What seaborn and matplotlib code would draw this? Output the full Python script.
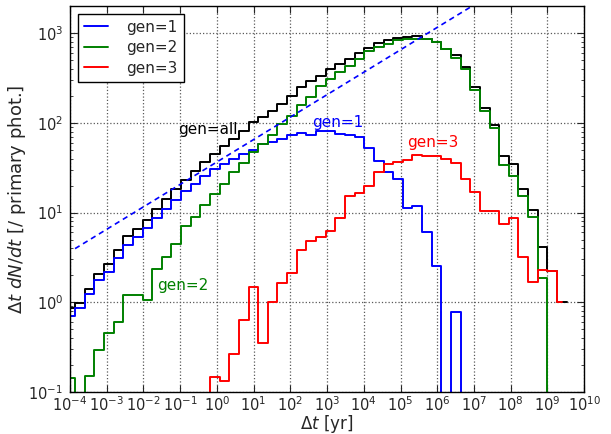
import numpy as np
import pandas as pd
import seaborn as sns
import matplotlib
matplotlib.use("Agg")
from matplotlib import pyplot as plt
from matplotlib.ticker import LogLocator, NullLocator

# log-spaced bins in dt [yr], 0.2625 dex wide
nbins = 52
edges = np.logspace(-4.125, -4.125 + 0.2625 * nbins, nbins + 1)

# dt dN/dt per bin [/ primary phot.]
gen_all = [0.87, 0.97, 1.41, 2.08, 2.64, 3.79, 5.47, 6.6, 8.2, 10.9,
           14.1, 18.3, 23.0, 29.2, 36.2, 44.9, 55.6, 66.0, 81.8, 101.6,
           115.6, 137.0, 162.6, 201.0, 250.0, 296.0, 335.0, 398.0, 452.0, 519.0,
           605.0, 689.0, 777.0, 831.0, 884.0, 914.0, 930.0, 867.0, 797.0, 671.0,
           565.0, 419.0, 250.0, 146.0, 94.8, 42.3, 34.7, 18.5, 10.6, 4.12,
           2.22, 1.0]
gen1 = [0.70, 0.865, 1.24, 1.79, 2.19, 3.14, 4.3, 5.4, 6.8, 8.8,
        10.9, 13.8, 17.4, 20.7, 25.7, 30.5, 34.7, 39.5, 44.9, 50.0,
        58.0, 60.7, 66.0, 73.0, 77.0, 74.0, 81.0, 80.5, 75.0, 73.0,
        69.0, 52.0, 37.5, 28.0, 23.6, 11.1, 11.9, 6.07, 2.53, 0.0,
        0.77, 0.0, 0.0, 0.0, 0.0, 0.0, 0.0, 0.0, 0.0, 0.0,
        0.0, 0.0]
gen2 = [0.143, 0.0, 0.149, 0.29, 0.45, 0.61, 1.22, 1.19, 1.07, 2.36,
        3.19, 4.42, 7.08, 9.0, 12.2, 16.0, 21.0, 28.0, 36.0, 47.0,
        58.0, 73.0, 97.0, 120.0, 156.0, 193.0, 257.0, 310.0, 368.0, 430.0,
        519.0, 626.0, 702.0, 764.0, 831.0, 867.0, 867.0, 860.0, 790.0, 660.0,
        528.0, 394.0, 235.0, 135.0, 87.0, 33.8, 25.7, 15.4, 9.0, 1.87,
        0.0, 0.0]
gen3 = [0.0, 0.0, 0.0, 0.0, 0.0, 0.0, 0.0, 0.0, 0.0, 0.0,
        0.0, 0.0, 0.0, 0.0, 0.0, 0.146, 0.133, 0.267, 0.63, 1.49,
        0.35, 1.0, 1.65, 2.1, 3.8, 4.8, 5.4, 6.3, 8.6, 15.1,
        16.3, 19.9, 28.0, 35.0, 37.0, 39.0, 43.7, 42.3, 42.3, 39.3,
        35.3, 23.6, 17.1, 10.4, 10.3, 7.4, 8.8, 3.2, 1.67, 2.28,
        2.22, 1.0]

# dashed t^(1/4) reference line
ref_norm = 36.6
ref_slope = 0.25
ref_t = [1.37e-4, 3e7]


def draw_steps(ax, vals, color, label=None, stop_mid=False):
    n = len(vals)
    x = list(edges[:n + 1])
    if stop_mid:
        # last bin only drawn up to its centre
        x[-1] = np.sqrt(edges[n - 1] * edges[n])
    y = list(vals) + [vals[-1]]
    df = pd.DataFrame({"t": x, "n": y})
    sns.lineplot(data=df, x="t", y="n", color=color, drawstyle="steps-post",
                 estimator=None, sort=False, lw=1.4, label=label,
                 legend=False, ax=ax)


sns.set_style("ticks")
plt.rcParams.update({
    "font.family": ["DejaVu Sans"],
    "xtick.direction": "in",
    "ytick.direction": "in",
    "xtick.top": True,
    "ytick.right": True,
    "xtick.major.size": 5,
    "ytick.major.size": 5,
    "xtick.minor.size": 2.5,
    "ytick.minor.size": 2.5,
    "axes.edgecolor": "black",
    "axes.linewidth": 1.0,
})

fig, ax = plt.subplots(figsize=(6.11, 4.34), dpi=100)
fig.subplots_adjust(left=0.1146, right=0.956, top=0.986, bottom=0.0968)

draw_steps(ax, gen_all, "black")
draw_steps(ax, gen1, "#0000ff", label="gen=1")
draw_steps(ax, gen2, "#008000", label="gen=2")
draw_steps(ax, gen3, "#ff0000", label="gen=3", stop_mid=True)

ref_y = [ref_norm * t ** ref_slope for t in ref_t]
sns.lineplot(x=ref_t, y=ref_y, color="#0000ff", ls=(0, (3.2, 2.4)), lw=1.2, ax=ax)

ax.set_xscale("log")
ax.set_yscale("log")
ax.set_xlim(1e-4, 1e10)
ax.set_ylim(0.1, 2000)
ax.set_xticks([10.0 ** k for k in range(-4, 11)])
ax.set_yticks([10.0 ** k for k in range(-1, 4)])
ax.xaxis.set_minor_locator(NullLocator())
ax.yaxis.set_minor_locator(LogLocator(base=10, subs=np.arange(2, 10), numticks=20))
ax.grid(True, which="major", ls=":", color="0.35", lw=0.9)
ax.tick_params(labelsize=10.5)
ax.tick_params(axis="x", pad=2.5)
ax.tick_params(axis="y", pad=5)

ax.set_xlabel(r"$\Delta t$ [yr]", fontsize=12, labelpad=-1)
ax.set_ylabel(r"$\Delta t\ dN/dt$ [/ primary phot.]", fontsize=13, labelpad=0)

ax.text(10 ** -1.05, 85, "gen=all", color="black", fontsize=11, va="center")
ax.text(10 ** 2.59, 100, "gen=1", color="#0000ff", fontsize=11, va="center")
ax.text(10 ** -1.64, 1.55, "gen=2", color="#008000", fontsize=11, va="center")
ax.text(10 ** 5.19, 61, "gen=3", color="#ff0000", fontsize=11, va="center")

handles = [l for l in ax.get_lines() if l.get_label() in ("gen=1", "gen=2", "gen=3")]
leg = ax.legend(handles=handles, labels=[h.get_label() for h in handles],
                loc="upper left", fontsize=11, frameon=True, fancybox=False,
                edgecolor="black", framealpha=1, handlelength=1.6,
                handletextpad=1.2, labelspacing=0.35, borderaxespad=0.5,
                borderpad=0.4)
leg.get_frame().set_linewidth(1.0)

fig.savefig("out.png", dpi=100)
